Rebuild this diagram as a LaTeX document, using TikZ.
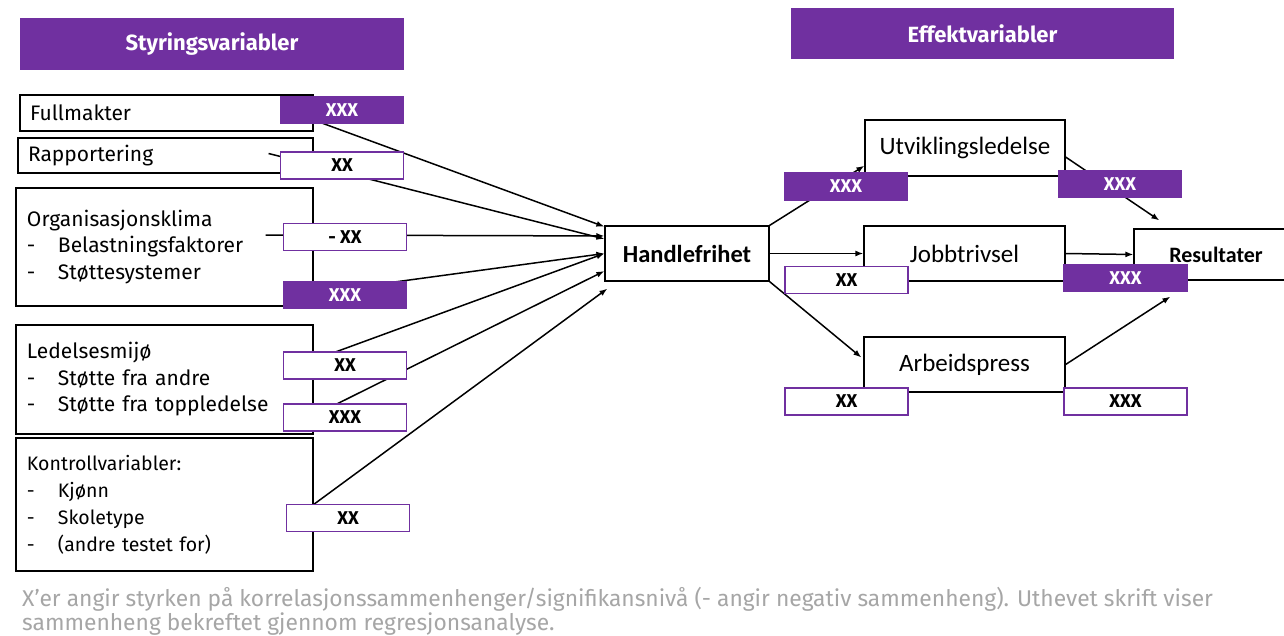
\documentclass[tikz,border=0pt]{standalone}
\usepackage{fontspec}
\setmainfont{Carlito}
\newfontfamily\dinfont{Fira Sans}
\usetikzlibrary{arrows.meta,calc}
\definecolor{lilla}{RGB}{112,48,160}
\definecolor{notegra}{RGB}{166,166,166}
\newcommand{\punkt}[1]{\makebox[31pt][l]{-}#1}
\begin{document}
\begin{tikzpicture}[x=1pt,y=-1pt,
  varbox/.style={draw, line width=1.2pt, inner xsep=11pt, inner ysep=0pt, align=left, font=\dinfont\fontsize{21}{26.5}\selectfont},
  effbox/.style={draw, line width=1.2pt, font=\fontsize{25}{29}\selectfont},
  hdr/.style={fill=lilla, text=white, font=\dinfont\bfseries\fontsize{22}{26}\selectfont},
  lblf/.style={fill=lilla, draw=lilla, line width=1.5pt, text=white, minimum width=123pt, minimum height=27pt, inner sep=0pt, font=\dinfont\bfseries\fontsize{18.5}{22}\selectfont},
  lblo/.style={lblf, fill=white, text=black},
  pil/.style={line width=1.5pt, -{Latex[length=8pt,width=6pt]}}]
\fill[white] (0,0) rectangle (1284,635);
\clip (0,0) rectangle (1284,635);
\node[hdr, minimum width=384pt, minimum height=52pt] (hStyr) at (212,44) {Styringsvariabler};
\node[hdr, minimum width=383pt, minimum height=51pt] (hEff) at (982.5,33.5) {Effektvariabler};
\node[varbox, text width=273pt, inner xsep=10pt, minimum height=36pt] (full) at (166.5,113) {Fullmakter};
\node[varbox, text width=275pt, inner xsep=10pt, minimum height=35pt] (rapp) at (165.5,155.5) {Rapportering};
\node[varbox, text width=275pt, minimum height=118pt] (org) at (164.5,247) {Organisasjonsklima\\\punkt{Belastningsfaktorer}\\\punkt{Støttesystemer}};
\node[varbox, text width=275pt, minimum height=109pt] (led) at (164.5,379.5) {Ledelsesmijø\\\punkt{Støtte fra andre}\\\punkt{Støtte fra toppledelse}};
\node[varbox, text width=275pt, minimum height=133pt, font=\dinfont\fontsize{19.5}{27}\selectfont] (ktr) at (164.5,504.5) {Kontrollvariabler:\\\punkt{Kjønn}\\\punkt{Skoletype}\\\punkt{(andre testet for)}};
\node[effbox, minimum width=164pt, minimum height=55pt, font=\bfseries\fontsize{24.5}{28}\selectfont] (hand) at (687,253.5) {Handlefrihet};
\node[effbox, minimum width=200pt, minimum height=56pt] (utv) at (965,148) {Utviklingsledelse};
\node[effbox, minimum width=201pt, minimum height=55pt] (job) at (964.5,253.5) {Jobbtrivsel};
\node[effbox, minimum width=201pt, minimum height=55pt] (arb) at (964.5,364.5) {Arbeidspress};
\node[effbox, minimum width=164pt, minimum height=51pt, font=\bfseries\fontsize{22}{26}\selectfont] (res) at (1216,254.5) {Resultater};
\draw[pil] ($(full.east)+(0,7)$) -- (hand.162);
\draw[pil] ($(rapp.east)+(-45,-2)$) -- (hand.170);
\draw[pil] ($(org.east)+(-48,-12)$) -- (hand.168);
\draw[pil] ($(org.east)+(0,46)$) -- (hand.west);
\draw[pil] ($(led.east)+(0,-19.5)$) -- (hand.west);
\draw[pil] ($(led.east)+(0,36)$) -- (hand.192);
\draw[pil] (ktr.east) -- ($(hand.south west)+(3,7)$);
\draw[pil] (hand.north east) -- (utv.190);
\draw[pil] (hand.east) -- (job.west);
\draw[pil] (hand.south east) -- ($(arb.west)+(-2,-7)$);
\draw[pil] ($(utv.east)+(0,9)$) -- ($(res.north west)+(26,-8)$);
\draw[pil] (job.east) -- (res.west);
\draw[pil] (arb.east) -- ($(res.south west)+(37,16)$);
\node[lblf] (lFull) at (342,110) {XXX};
\node[lblo] (lRapp) at (342,165.5) {XX};
\node[lblo] (lOrg) at (345,237) {- XX};
\node[lblf] (lOrg2) at (345,295) {XXX};
\node[lblo] (lLed1) at (345,365.5) {XX};
\node[lblo] (lLed2) at (345,417.5) {XXX};
\node[lblo] (lKtr) at (348,518) {XX};
\node[lblf] (lUtv) at (846,186.5) {XXX};
\node[lblo] (lJob) at (846.5,280) {XX};
\node[lblo] (lArb) at (846.5,401.5) {XX};
\node[lblf] (lUtvR) at (1120,184) {XXX};
\node[lblf] (lJobR) at (1125.5,278) {XXX};
\node[lblo] (lArbR) at (1125.5,401.5) {XXX};
\node[anchor=north west, align=left, text=notegra, inner sep=0pt, font=\dinfont\fontsize{22.8}{24}\selectfont] (note) at (22,587) {X’er angir styrken på korrelasjonssammenhenger/signifikansnivå (- angir negativ sammenheng). Uthevet skrift viser\\sammenheng bekreftet gjennom regresjonsanalyse.};
\end{tikzpicture}
\end{document}
